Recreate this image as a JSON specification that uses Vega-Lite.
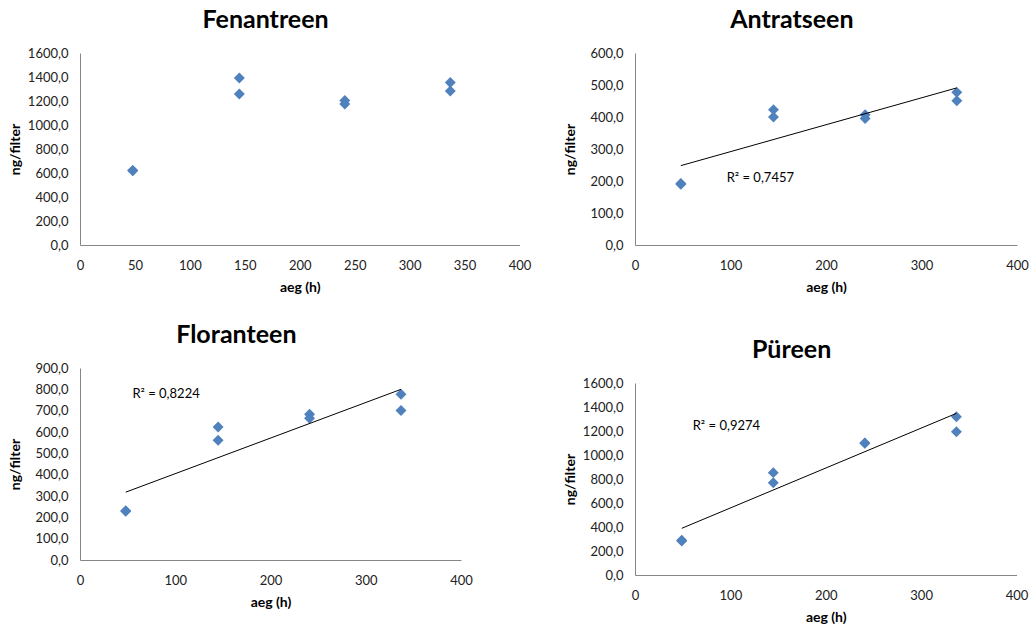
{
  "$schema": "https://vega.github.io/schema/vega-lite/v6.json",
  "background": "white",
  "padding": {"left": 8, "top": 8, "right": 0, "bottom": 0},
  "config": {
    "font": "Lato",
    "view": {"stroke": null},
    "axis": {
      "grid": false, "ticks": false, "domainColor": "#868686", "domainWidth": 1,
      "labelFont": "Lato", "labelFontSize": 13, "labelColor": "#222", "labelPadding": 14,
      "titleFont": "Lato", "titleFontSize": 14, "titleFontWeight": "bold", "titleColor": "#000",
      "labelFlush": false, "labelOverlap": false
    },
    "axisX": {"titlePadding": 8},
    "axisY": {"titlePadding": 5, "labelPadding": 12, "labelExpr": "replace(format(datum.value, '.1f'), '.', ',')"},
    "title": {"font": "Lato", "fontSize": 25, "fontWeight": "bold", "color": "#000", "offset": 14, "anchor": "middle", "frame": "bounds", "dx": -4},
    "point": {"shape": "diamond", "filled": true, "size": 120, "color": "#4F81BD", "opacity": 1},
    "text": {"font": "Lato", "fontSize": 13, "color": "#000", "align": "left", "baseline": "middle"}
  },
  "datasets": {
    "points": [
      {"compound": "Fenantreen", "aeg": 48, "ng": 622},
      {"compound": "Fenantreen", "aeg": 48, "ng": 618},
      {"compound": "Fenantreen", "aeg": 145, "ng": 1392},
      {"compound": "Fenantreen", "aeg": 145, "ng": 1259},
      {"compound": "Fenantreen", "aeg": 241, "ng": 1205},
      {"compound": "Fenantreen", "aeg": 241, "ng": 1175},
      {"compound": "Fenantreen", "aeg": 337, "ng": 1355},
      {"compound": "Fenantreen", "aeg": 337, "ng": 1284},
      {"compound": "Antratseen", "aeg": 48, "ng": 192},
      {"compound": "Antratseen", "aeg": 48, "ng": 190},
      {"compound": "Antratseen", "aeg": 145, "ng": 423},
      {"compound": "Antratseen", "aeg": 145, "ng": 400},
      {"compound": "Antratseen", "aeg": 241, "ng": 407},
      {"compound": "Antratseen", "aeg": 241, "ng": 395},
      {"compound": "Antratseen", "aeg": 337, "ng": 477},
      {"compound": "Antratseen", "aeg": 337, "ng": 451},
      {"compound": "Floranteen", "aeg": 48, "ng": 231},
      {"compound": "Floranteen", "aeg": 48, "ng": 228},
      {"compound": "Floranteen", "aeg": 145, "ng": 623},
      {"compound": "Floranteen", "aeg": 145, "ng": 561},
      {"compound": "Floranteen", "aeg": 241, "ng": 683},
      {"compound": "Floranteen", "aeg": 241, "ng": 664},
      {"compound": "Floranteen", "aeg": 337, "ng": 777},
      {"compound": "Floranteen", "aeg": 337, "ng": 701},
      {"compound": "Püreen", "aeg": 49, "ng": 290},
      {"compound": "Püreen", "aeg": 49, "ng": 283},
      {"compound": "Püreen", "aeg": 145, "ng": 853},
      {"compound": "Püreen", "aeg": 145, "ng": 769},
      {"compound": "Püreen", "aeg": 241, "ng": 1100},
      {"compound": "Püreen", "aeg": 241, "ng": 1098},
      {"compound": "Püreen", "aeg": 337, "ng": 1319},
      {"compound": "Püreen", "aeg": 337, "ng": 1194}
    ],
    "trends": [
      {"compound": "Antratseen", "aeg": 48, "ng": 248},
      {"compound": "Antratseen", "aeg": 337, "ng": 491},
      {"compound": "Floranteen", "aeg": 48, "ng": 318},
      {"compound": "Floranteen", "aeg": 337, "ng": 800},
      {"compound": "Püreen", "aeg": 49, "ng": 389},
      {"compound": "Püreen", "aeg": 337, "ng": 1347}
    ],
    "labels": [
      {"compound": "Antratseen", "label": "R² = 0,7457", "aeg": 96, "ng": 210},
      {"compound": "Floranteen", "label": "R² = 0,8224", "aeg": 55, "ng": 779},
      {"compound": "Püreen", "label": "R² = 0,9274", "aeg": 60.5, "ng": 1239}
    ]
  },
  "spacing": 32,
  "hconcat": [
    {
      "columns": 1,
      "spacing": 29,
      "concat": [
        {
          "title": {"text": "Fenantreen"},
          "width": 439.5, "height": 192,
          "data": {"name": "points"},
          "transform": [{"filter": "datum.compound === 'Fenantreen'"}],
          "mark": {"type": "point"},
          "encoding": {
            "x": {"field": "aeg", "type": "quantitative", "scale": {"domain": [0, 400], "nice": false}, "axis": {"title": "aeg (h)", "values": [0, 50, 100, 150, 200, 250, 300, 350, 400]}},
            "y": {"field": "ng", "type": "quantitative", "scale": {"domain": [0, 1600], "nice": false}, "axis": {"title": "ng/filter", "values": [0, 200, 400, 600, 800, 1000, 1200, 1400, 1600]}}
          }
        },
        {
          "title": {"text": "Floranteen"},
          "width": 381, "height": 192,
          "encoding": {
            "x": {"field": "aeg", "type": "quantitative", "scale": {"domain": [0, 400], "nice": false}, "axis": {"title": "aeg (h)", "values": [0, 100, 200, 300, 400]}},
            "y": {"field": "ng", "type": "quantitative", "scale": {"domain": [0, 900], "nice": false}, "axis": {"title": "ng/filter", "titlePadding": 12.5, "values": [0, 100, 200, 300, 400, 500, 600, 700, 800, 900]}}
          },
          "layer": [
            {"data": {"name": "points"}, "transform": [{"filter": "datum.compound === 'Floranteen'"}], "mark": {"type": "point"}},
            {"data": {"name": "trends"}, "transform": [{"filter": "datum.compound === 'Floranteen'"}], "mark": {"type": "line", "color": "#000", "strokeWidth": 1}},
            {"data": {"name": "labels"}, "transform": [{"filter": "datum.compound === 'Floranteen'"}],
             "mark": {"type": "text"},
             "encoding": {"text": {"field": "label", "type": "nominal"}}}
          ]
        }
      ]
    },
    {
      "columns": 1,
      "spacing": 44,
      "concat": [
        {
          "title": {"text": "Antratseen"},
          "width": 382, "height": 192,
          "encoding": {
            "x": {"field": "aeg", "type": "quantitative", "scale": {"domain": [0, 400], "nice": false}, "axis": {"title": "aeg (h)", "values": [0, 100, 200, 300, 400]}},
            "y": {"field": "ng", "type": "quantitative", "scale": {"domain": [0, 600], "nice": false}, "axis": {"title": "ng/filter", "titlePadding": 12.5, "values": [0, 100, 200, 300, 400, 500, 600]}}
          },
          "layer": [
            {"data": {"name": "points"}, "transform": [{"filter": "datum.compound === 'Antratseen'"}], "mark": {"type": "point"}},
            {"data": {"name": "trends"}, "transform": [{"filter": "datum.compound === 'Antratseen'"}], "mark": {"type": "line", "color": "#000", "strokeWidth": 1}},
            {"data": {"name": "labels"}, "transform": [{"filter": "datum.compound === 'Antratseen'"}],
             "mark": {"type": "text"},
             "encoding": {"text": {"field": "label", "type": "nominal"}}}
          ]
        },
        {
          "title": {"text": "Püreen"},
          "width": 381.5, "height": 192,
          "encoding": {
            "x": {"field": "aeg", "type": "quantitative", "scale": {"domain": [0, 400], "nice": false}, "axis": {"title": "aeg (h)", "values": [0, 100, 200, 300, 400]}},
            "y": {"field": "ng", "type": "quantitative", "scale": {"domain": [0, 1600], "nice": false}, "axis": {"title": "ng/filter", "values": [0, 200, 400, 600, 800, 1000, 1200, 1400, 1600]}}
          },
          "layer": [
            {"data": {"name": "points"}, "transform": [{"filter": "datum.compound === 'Püreen'"}], "mark": {"type": "point"}},
            {"data": {"name": "trends"}, "transform": [{"filter": "datum.compound === 'Püreen'"}], "mark": {"type": "line", "color": "#000", "strokeWidth": 1}},
            {"data": {"name": "labels"}, "transform": [{"filter": "datum.compound === 'Püreen'"}],
             "mark": {"type": "text"},
             "encoding": {"text": {"field": "label", "type": "nominal"}}}
          ]
        }
      ]
    }
  ]
}
